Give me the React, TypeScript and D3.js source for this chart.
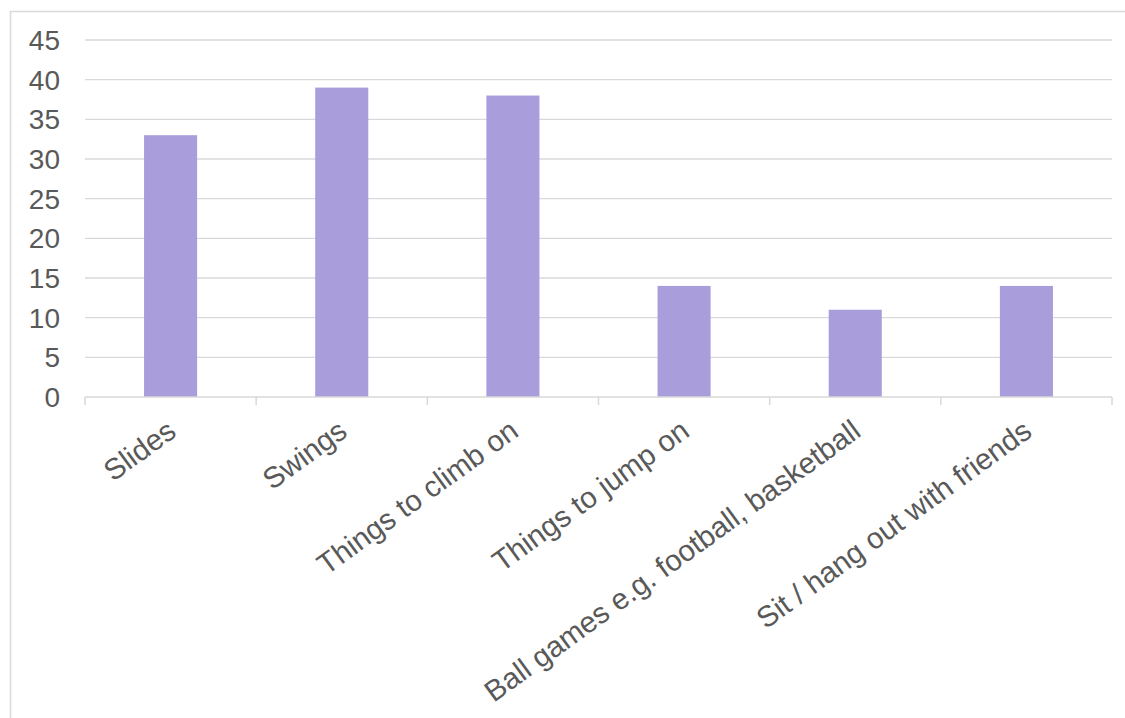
import React from "react";
import * as d3 from "d3";

const categories = [
  "Slides",
  "Swings",
  "Things to climb on",
  "Things to jump on",
  "Ball games e.g. football, basketball",
  "Sit / hang out with friends",
];
const values = [33, 39, 38, 14, 11, 14];
const yTicks = [0, 5, 10, 15, 20, 25, 30, 35, 40, 45];

const W = 1125;
const H = 718;
const left = 85;
const right = 1112;
const top = 40;
const bottom = 397;

export default function App() {
  const x = d3
    .scaleBand<string>()
    .domain(categories)
    .range([left, right])
    .paddingInner(0.69)
    .paddingOuter(0.345);
  const y = d3.scaleLinear().domain([0, 45]).range([bottom, top]);
  const step = x.step();
  const boundaries = d3.range(categories.length + 1).map((i) => left + i * step);
  const font = "'Liberation Sans', Arial, sans-serif";
  const textColor = "#595959";
  const grid = "#d9d9d9";

  return (
    <div style={{ position: "absolute", left: 0, top: 0 }}>
      <svg width={W} height={H} style={{ display: "block", background: "#fff" }}>
        <rect x={10.5} y={11.5} width={W + 20} height={H + 20} fill="#fff" stroke={grid} strokeWidth={1.5} />
        {yTicks.map((t) => (
          <g key={t}>
            {t > 0 && (
              <line x1={left} x2={right} y1={y(t)} y2={y(t)} stroke={grid} strokeWidth={1.4} />
            )}
            <text
              x={60}
              y={y(t)}
              dy="0.36em"
              textAnchor="end"
              fontFamily={font}
              fontSize={28}
              fill={textColor}
            >
              {t}
            </text>
          </g>
        ))}
        {categories.map((c, i) => (
          <rect key={c} x={x(c)} y={y(values[i])} width={x.bandwidth()} height={y(0) - y(values[i])} fill="#a99ddb" />
        ))}
        <line x1={left} x2={right} y1={bottom} y2={bottom} stroke={grid} strokeWidth={1.5} />
        {boundaries.map((b, i) => (
          <line key={i} x1={b} x2={b} y1={bottom} y2={bottom + 8} stroke={grid} strokeWidth={1.5} />
        ))}
        {categories.map((c) => {
          const cx = (x(c) as number) + x.bandwidth() / 2;
          return (
            <text
              key={c}
              transform={`translate(${cx - 5},${bottom + 21}) rotate(-36)`}
              textAnchor="end"
              dy="0.71em"
              fontFamily={font}
              fontSize={29.5}
              fill={textColor}
            >
              {c}
            </text>
          );
        })}
      </svg>
    </div>
  );
}
